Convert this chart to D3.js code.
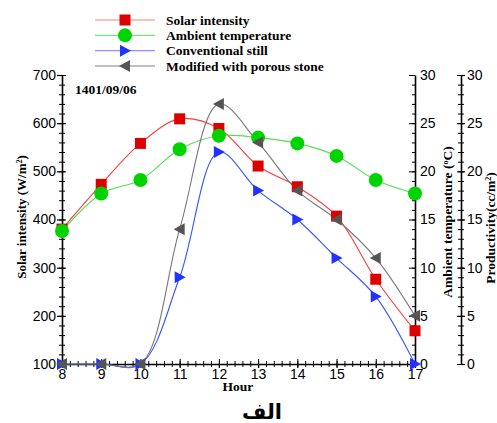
<!DOCTYPE html>
<html><head><meta charset="utf-8">
<script src="https://cdn.jsdelivr.net/npm/d3@7"></script>
<style>body{margin:0;background:#fff}svg{display:block}</style>
</head><body>
<svg id="c" width="497" height="423"></svg>
<script>
const hours = [8,9,10,11,12,13,14,15,16,17];
const solarIntensity = [380,473,558,609,589,511,468,407,276,169];
const ambientTemp = [13.8,17.7,19.1,22.3,23.7,23.5,22.9,21.6,19.1,17.7];
const conventional = [0,0,0,9,22,18,15,11,7,0];
const modified = [0,0,0,14,27,23,18,15,11,5];
const leftTicks = [100,200,300,400,500,600,700];
const rightTicks = [0,5,10,15,20,25,30];
const seriesNames = ["Solar intensity","Ambient temperature","Conventional still","Modified with porous stone"];

const svg = d3.select("#c");
const x = d3.scaleLinear([8,17],[62,415]);
const yL = d3.scaleLinear([100,700],[364,75]);
const yR = d3.scaleLinear([0,30],[364,75]);
const tickFont = "'Liberation Sans', Arial, sans-serif";
const serif = "'Liberation Serif', 'Times New Roman', serif";

function styleAxis(g){
  g.select(".domain").attr("stroke","#000").attr("stroke-width",1.6);
  g.selectAll(".tick line").attr("stroke","#000").attr("stroke-width",1.2);
  g.selectAll("text").attr("font-family",tickFont).attr("font-size",14).attr("fill","#000");
}
function minor(g){ g.select(".domain").remove(); g.selectAll("text").remove(); g.selectAll("line").attr("stroke","#000").attr("stroke-width",1); }

const leftMinor = d3.range(100,701,20);
const rightMinor = d3.range(0,30.01,1);
const xMinor = d3.range(8,17.001,0.2);

// Left axis
svg.append("g").attr("transform","translate(62,0)").call(d3.axisLeft(yL).tickValues(leftMinor).tickSize(3).tickFormat("")).call(minor);
svg.append("g").attr("transform","translate(62,0)").call(d3.axisRight(yL).tickValues(leftMinor).tickSize(3).tickFormat("")).call(minor);
svg.append("g").attr("transform","translate(62,0)").call(d3.axisRight(yL).tickValues(leftTicks).tickSize(4).tickFormat("")).call(minor);
svg.append("g").attr("transform","translate(62,0)").call(d3.axisLeft(yL).tickValues(leftTicks).tickSize(5).tickPadding(1).tickSizeOuter(0)).call(styleAxis);

// Right ambient axis
svg.append("g").attr("transform","translate(415,0)").call(d3.axisLeft(yR).tickValues(rightMinor).tickSize(3).tickFormat("")).call(minor);
svg.append("g").attr("transform","translate(415,0)").call(d3.axisLeft(yR).tickValues(rightTicks).tickSize(6).tickFormat("")).call(minor);
svg.append("g").attr("transform","translate(415,0)").call(d3.axisRight(yR).tickValues(rightTicks).tickSize(0).tickPadding(5).tickSizeOuter(0)).call(styleAxis);

// Productivity axis
svg.append("g").attr("transform","translate(461,0)").call(d3.axisLeft(yR).tickValues(rightMinor).tickSize(3).tickFormat("")).call(minor);
svg.append("g").attr("transform","translate(461,0)").call(d3.axisRight(yR).tickValues(rightMinor).tickSize(3).tickFormat("")).call(minor);
svg.append("g").attr("transform","translate(461,0)").call(d3.axisLeft(yR).tickValues(rightTicks).tickSize(4).tickFormat("")).call(minor);
svg.append("g").attr("transform","translate(461,0)").call(d3.axisRight(yR).tickValues(rightTicks).tickSize(4).tickPadding(2).tickSizeOuter(0)).call(styleAxis);

// X axis
svg.append("g").attr("transform","translate(0,364)").call(d3.axisTop(x).tickValues(xMinor).tickSize(3).tickFormat("")).call(minor);
svg.append("g").attr("transform","translate(0,364)").call(d3.axisBottom(x).tickValues(xMinor).tickSize(3).tickFormat("")).call(minor);
svg.append("g").attr("transform","translate(0,364)").call(d3.axisTop(x).tickValues(hours).tickSize(5).tickFormat("")).call(minor);
svg.append("g").attr("transform","translate(0,364)").call(d3.axisBottom(x).tickValues(hours).tickSize(4).tickPadding(1).tickSizeOuter(0)).call(styleAxis);

// Series
const series = [
  {name:seriesNames[0], vals:solarIntensity, y:yL, line:"#ff3a3a", fill:"#dd0000", shape:"square"},
  {name:seriesNames[1], vals:ambientTemp, y:yR, line:"#55dd55", fill:"#00d400", shape:"circle"},
  {name:seriesNames[2], vals:conventional, y:yR, line:"#3355ff", fill:"#2233ff", shape:"tri-right"},
  {name:seriesNames[3], vals:modified, y:yR, line:"#777777", fill:"#555555", shape:"tri-left"}
];
const line = (s)=> d3.line().x((d,i)=>x(hours[i])).y(d=>s.y(d)).curve(d3.curveCatmullRom.alpha(0.5));
series.forEach(s=>{
  svg.append("path").attr("d",line(s)(s.vals)).attr("fill","none").attr("stroke",s.line).attr("stroke-width",1.1);
});
function marker(g, shape, cx, cy, fill){
  if(shape==="square") g.append("rect").attr("x",cx-5.5).attr("y",cy-5.5).attr("width",11).attr("height",11).attr("fill",fill);
  else if(shape==="circle") g.append("circle").attr("cx",cx).attr("cy",cy).attr("r",7).attr("fill",fill);
  else if(shape==="tri-right") g.append("path").attr("d",`M${cx-5},${cy-6}L${cx+6},${cy}L${cx-5},${cy+6}Z`).attr("fill",fill);
  else g.append("path").attr("d",`M${cx+5},${cy-6}L${cx-6},${cy}L${cx+5},${cy+6}Z`).attr("fill",fill);
}
series.forEach(s=>{
  const g = svg.append("g");
  s.vals.forEach((v,i)=>marker(g,s.shape,x(hours[i]),s.y(v),s.fill));
});

// Legend
const legY = d3.scalePoint().domain(seriesNames).range([20,66]);
const legendLine = ["#ff8080","#80e080","#9090ff","#808080"];
series.forEach((s,i)=>{
  const yy = legY(s.name);
  svg.append("line").attr("x1",95).attr("x2",155).attr("y1",yy).attr("y2",yy).attr("stroke",legendLine[i]).attr("stroke-width",1.2);
  marker(svg,s.shape,125,yy,s.fill);
  svg.append("text").attr("x",166).attr("y",yy+4.5).attr("font-family",serif).attr("font-weight","bold").attr("font-size",13.5).text(s.name);
});

// Texts
svg.append("text").attr("x",75).attr("y",94).attr("font-family",serif).attr("font-weight","bold").attr("font-size",13.5).text("1401/09/06");
svg.append("text").attr("x",238).attr("y",391).attr("text-anchor","middle").attr("font-family",serif).attr("font-weight","bold").attr("font-size",13.5).text("Hour");
svg.append("text").attr("x",262).attr("y",419).attr("text-anchor","middle").attr("font-family","'DejaVu Sans', 'Noto Sans', sans-serif").attr("font-weight","bold").attr("font-size",21).text("الف");

function vtitle(cx, cy, parts, fs){
  const t = svg.append("text").attr("transform",`translate(${cx},${cy}) rotate(-90)`).attr("text-anchor","middle")
    .attr("font-family",serif).attr("font-weight","bold").attr("font-size",fs);
  parts.forEach(p=>{ const ts=t.append("tspan").text(p[0]); if(p[1]){ts.attr("baseline-shift","super").attr("font-size",8);} });
}
vtitle(26, 217, [["Solar intensity (W/m"],["2",true],[")"]], 13);
vtitle(452, 222, [["Ambient temperature ("],["o",true],["C)"]], 13.5);
vtitle(495, 228, [["Productivity(cc/m"],["2",true],[")"]], 13.5);
</script>
</body></html>
